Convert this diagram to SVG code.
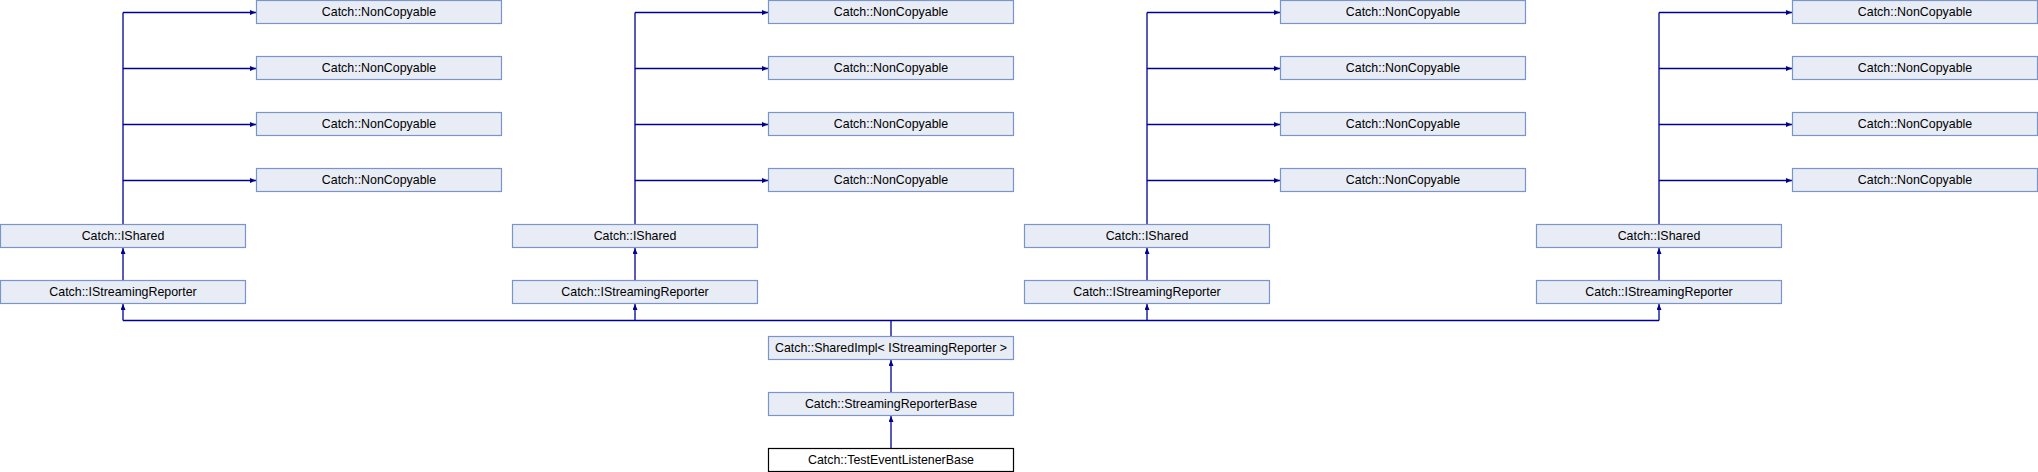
<svg xmlns="http://www.w3.org/2000/svg" width="2038" height="472" viewBox="0 0 2038 472">
<style>
.n rect{fill:#E8ECF5;stroke:#7B94CA;stroke-width:1.2}
.n.cur rect{fill:#FFFFFF;stroke:#000000}
.n text{font-family:"Liberation Sans",Arial,sans-serif;font-size:12.4px;fill:#000000;text-anchor:middle}
#edges path{fill:none;stroke:#000092;stroke-width:1.3}
</style>
<defs>
<marker id="ah" markerUnits="userSpaceOnUse" markerWidth="7" markerHeight="6" refX="6" refY="2.5" orient="auto">
<path d="M0,0 L6,2.5 L0,5 z" fill="#000092"/>
</marker>
</defs>
<rect width="2038" height="472" fill="#FFFFFF"/>
<g id="edges">
<path d="M123,224.5 V12.5"/>
<path d="M123,12.5 H256" marker-end="url(#ah)"/>
<path d="M123,68.5 H256" marker-end="url(#ah)"/>
<path d="M123,124.5 H256" marker-end="url(#ah)"/>
<path d="M123,180.5 H256" marker-end="url(#ah)"/>
<path d="M123,280.5 V248" marker-end="url(#ah)"/>
<path d="M635,224.5 V12.5"/>
<path d="M635,12.5 H768" marker-end="url(#ah)"/>
<path d="M635,68.5 H768" marker-end="url(#ah)"/>
<path d="M635,124.5 H768" marker-end="url(#ah)"/>
<path d="M635,180.5 H768" marker-end="url(#ah)"/>
<path d="M635,280.5 V248" marker-end="url(#ah)"/>
<path d="M1147,224.5 V12.5"/>
<path d="M1147,12.5 H1280" marker-end="url(#ah)"/>
<path d="M1147,68.5 H1280" marker-end="url(#ah)"/>
<path d="M1147,124.5 H1280" marker-end="url(#ah)"/>
<path d="M1147,180.5 H1280" marker-end="url(#ah)"/>
<path d="M1147,280.5 V248" marker-end="url(#ah)"/>
<path d="M1659,224.5 V12.5"/>
<path d="M1659,12.5 H1792" marker-end="url(#ah)"/>
<path d="M1659,68.5 H1792" marker-end="url(#ah)"/>
<path d="M1659,124.5 H1792" marker-end="url(#ah)"/>
<path d="M1659,180.5 H1792" marker-end="url(#ah)"/>
<path d="M1659,280.5 V248" marker-end="url(#ah)"/>
<path d="M891,336.5 V320.5"/>
<path d="M123,320.5 H1659"/>
<path d="M123,320.5 V304" marker-end="url(#ah)"/>
<path d="M635,320.5 V304" marker-end="url(#ah)"/>
<path d="M1147,320.5 V304" marker-end="url(#ah)"/>
<path d="M1659,320.5 V304" marker-end="url(#ah)"/>
<path d="M891,392.5 V360" marker-end="url(#ah)"/>
<path d="M891,448.5 V416" marker-end="url(#ah)"/>
</g>
<g id="nc1a" class="n"><rect x="256.5" y="0.5" width="245" height="23"/><text x="379" y="16">Catch::NonCopyable</text></g>
<g id="nc1b" class="n"><rect x="256.5" y="56.5" width="245" height="23"/><text x="379" y="72">Catch::NonCopyable</text></g>
<g id="nc1c" class="n"><rect x="256.5" y="112.5" width="245" height="23"/><text x="379" y="128">Catch::NonCopyable</text></g>
<g id="nc1d" class="n"><rect x="256.5" y="168.5" width="245" height="23"/><text x="379" y="184">Catch::NonCopyable</text></g>
<g id="nc2a" class="n"><rect x="768.5" y="0.5" width="245" height="23"/><text x="891" y="16">Catch::NonCopyable</text></g>
<g id="nc2b" class="n"><rect x="768.5" y="56.5" width="245" height="23"/><text x="891" y="72">Catch::NonCopyable</text></g>
<g id="nc2c" class="n"><rect x="768.5" y="112.5" width="245" height="23"/><text x="891" y="128">Catch::NonCopyable</text></g>
<g id="nc2d" class="n"><rect x="768.5" y="168.5" width="245" height="23"/><text x="891" y="184">Catch::NonCopyable</text></g>
<g id="nc3a" class="n"><rect x="1280.5" y="0.5" width="245" height="23"/><text x="1403" y="16">Catch::NonCopyable</text></g>
<g id="nc3b" class="n"><rect x="1280.5" y="56.5" width="245" height="23"/><text x="1403" y="72">Catch::NonCopyable</text></g>
<g id="nc3c" class="n"><rect x="1280.5" y="112.5" width="245" height="23"/><text x="1403" y="128">Catch::NonCopyable</text></g>
<g id="nc3d" class="n"><rect x="1280.5" y="168.5" width="245" height="23"/><text x="1403" y="184">Catch::NonCopyable</text></g>
<g id="nc4a" class="n"><rect x="1792.5" y="0.5" width="245" height="23"/><text x="1915" y="16">Catch::NonCopyable</text></g>
<g id="nc4b" class="n"><rect x="1792.5" y="56.5" width="245" height="23"/><text x="1915" y="72">Catch::NonCopyable</text></g>
<g id="nc4c" class="n"><rect x="1792.5" y="112.5" width="245" height="23"/><text x="1915" y="128">Catch::NonCopyable</text></g>
<g id="nc4d" class="n"><rect x="1792.5" y="168.5" width="245" height="23"/><text x="1915" y="184">Catch::NonCopyable</text></g>
<g id="ish1" class="n"><rect x="0.5" y="224.5" width="245" height="23"/><text x="123" y="240">Catch::IShared</text></g>
<g id="ish2" class="n"><rect x="512.5" y="224.5" width="245" height="23"/><text x="635" y="240">Catch::IShared</text></g>
<g id="ish3" class="n"><rect x="1024.5" y="224.5" width="245" height="23"/><text x="1147" y="240">Catch::IShared</text></g>
<g id="ish4" class="n"><rect x="1536.5" y="224.5" width="245" height="23"/><text x="1659" y="240">Catch::IShared</text></g>
<g id="isr1" class="n"><rect x="0.5" y="280.5" width="245" height="23"/><text x="123" y="296">Catch::IStreamingReporter</text></g>
<g id="isr2" class="n"><rect x="512.5" y="280.5" width="245" height="23"/><text x="635" y="296">Catch::IStreamingReporter</text></g>
<g id="isr3" class="n"><rect x="1024.5" y="280.5" width="245" height="23"/><text x="1147" y="296">Catch::IStreamingReporter</text></g>
<g id="isr4" class="n"><rect x="1536.5" y="280.5" width="245" height="23"/><text x="1659" y="296">Catch::IStreamingReporter</text></g>
<g id="sharedimpl" class="n"><rect x="768.5" y="336.5" width="245" height="23"/><text x="891" y="352">Catch::SharedImpl&lt; IStreamingReporter &gt;</text></g>
<g id="srb" class="n"><rect x="768.5" y="392.5" width="245" height="23"/><text x="891" y="408">Catch::StreamingReporterBase</text></g>
<g id="telb" class="n cur"><rect x="768.5" y="448.5" width="245" height="23"/><text x="891" y="464">Catch::TestEventListenerBase</text></g>
</svg>
